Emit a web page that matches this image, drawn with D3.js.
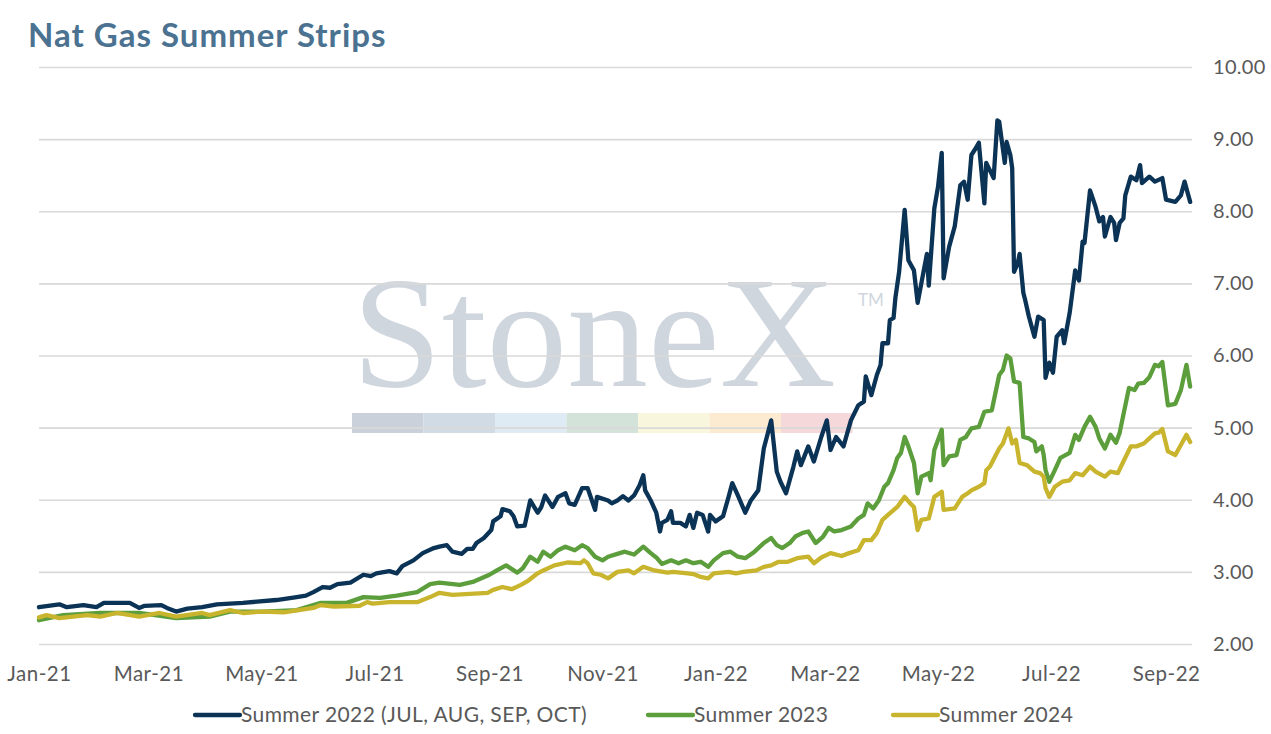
<!DOCTYPE html>
<html>
<head>
<meta charset="utf-8">
<script src="https://cdn.jsdelivr.net/npm/d3@7"></script>
<style>
  body { margin: 0; background: #fff; }
  svg { display: block; font-family: Lato, "Open Sans", sans-serif; }
</style>
</head>
<body>
<svg id="chart" width="1271" height="734"></svg>
<script>
// values, [date, price]
var summer2022 = [
  ["2021-01-01",2.51],["2021-01-12",2.55],["2021-01-16",2.51],["2021-01-25",2.54],["2021-02-01",2.51],
  ["2021-02-05",2.57],["2021-02-19",2.57],["2021-02-24",2.50],["2021-02-27",2.53],["2021-03-08",2.54],
  ["2021-03-11",2.50],["2021-03-16",2.45],["2021-03-22",2.49],["2021-03-30",2.51],["2021-04-07",2.55],
  ["2021-04-21",2.57],["2021-05-09",2.61],["2021-05-20",2.65],["2021-05-25",2.67],["2021-05-29",2.72],
  ["2021-06-03",2.79],["2021-06-07",2.78],["2021-06-11",2.83],["2021-06-18",2.85],["2021-06-25",2.96],
  ["2021-06-29",2.94],["2021-07-02",2.98],["2021-07-09",3.01],["2021-07-13",2.98],["2021-07-16",3.08],
  ["2021-07-22",3.16],["2021-07-27",3.26],["2021-08-02",3.33],["2021-08-05",3.35],["2021-08-09",3.37],
  ["2021-08-12",3.28],["2021-08-17",3.25],["2021-08-20",3.32],["2021-08-23",3.32],["2021-08-25",3.40],
  ["2021-08-29",3.47],["2021-09-02",3.58],["2021-09-03",3.70],["2021-09-07",3.77],["2021-09-08",3.87],
  ["2021-09-12",3.84],["2021-09-14",3.77],["2021-09-16",3.63],["2021-09-20",3.64],["2021-09-23",3.99],
  ["2021-09-27",3.82],["2021-09-29",3.90],["2021-10-01",4.06],["2021-10-05",3.90],["2021-10-08",4.04],
  ["2021-10-12",4.09],["2021-10-14",3.95],["2021-10-17",3.93],["2021-10-21",4.16],["2021-10-24",4.16],
  ["2021-10-28",3.86],["2021-10-29",4.04],["2021-11-04",3.99],["2021-11-06",3.95],["2021-11-09",3.99],
  ["2021-11-12",4.05],["2021-11-15",3.99],["2021-11-18",4.06],["2021-11-21",4.20],["2021-11-23",4.34],
  ["2021-11-24",4.13],["2021-11-27",3.99],["2021-11-30",3.82],["2021-12-02",3.56],["2021-12-03",3.68],
  ["2021-12-06",3.72],["2021-12-08",3.84],["2021-12-09",3.68],["2021-12-13",3.68],["2021-12-16",3.63],
  ["2021-12-18",3.79],["2021-12-20",3.61],["2021-12-22",3.82],["2021-12-25",3.79],["2021-12-28",3.56],
  ["2021-12-29",3.79],["2022-01-01",3.70],["2022-01-05",3.77],["2022-01-08",4.04],["2022-01-10",4.23],
  ["2022-01-13",4.06],["2022-01-17",3.82],["2022-01-20",3.99],["2022-01-24",4.13],["2022-01-27",4.71],
  ["2022-01-31",5.10],["2022-02-03",4.39],["2022-02-05",4.25],["2022-02-08",4.09],["2022-02-12",4.46],
  ["2022-02-14",4.67],["2022-02-16",4.48],["2022-02-20",4.74],["2022-02-23",4.53],["2022-02-27",4.87],
  ["2022-03-02",5.10],["2022-03-04",4.69],["2022-03-07",4.87],["2022-03-11",4.74],["2022-03-15",5.10],
  ["2022-03-19",5.31],["2022-03-22",5.36],["2022-03-23",5.71],["2022-03-26",5.45],["2022-03-29",5.73],
  ["2022-03-31",5.87],["2022-04-01",6.17],["2022-04-04",6.17],["2022-04-05",6.49],["2022-04-07",6.52],
  ["2022-04-08",6.80],["2022-04-10",7.16],["2022-04-13",8.02],["2022-04-15",7.32],["2022-04-18",7.18],
  ["2022-04-20",6.73],["2022-04-23",7.14],["2022-04-25",7.41],["2022-04-26",6.97],["2022-04-29",8.04],
  ["2022-05-01",8.34],["2022-05-03",8.81],["2022-05-04",7.07],["2022-05-07",7.51],["2022-05-10",7.79],
  ["2022-05-13",8.36],["2022-05-15",8.41],["2022-05-17",8.16],["2022-05-19",8.78],["2022-05-21",8.86],
  ["2022-05-23",8.95],["2022-05-26",8.11],["2022-05-27",8.67],["2022-05-31",8.46],["2022-06-02",9.26],
  ["2022-06-03",9.24],["2022-06-06",8.67],["2022-06-07",8.96],["2022-06-09",8.78],["2022-06-10",8.60],
  ["2022-06-11",7.16],["2022-06-13",7.28],["2022-06-14",7.41],["2022-06-16",6.87],["2022-06-17",6.77],
  ["2022-06-19",6.54],["2022-06-22",6.26],["2022-06-24",6.54],["2022-06-27",6.49],["2022-06-28",5.69],
  ["2022-06-30",5.90],["2022-07-02",5.76],["2022-07-04",6.26],["2022-07-07",6.35],["2022-07-08",6.17],
  ["2022-07-11",6.59],["2022-07-14",7.18],["2022-07-16",7.04],["2022-07-18",7.58],["2022-07-19",7.56],
  ["2022-07-22",8.29],["2022-07-25",8.06],["2022-07-27",7.86],["2022-07-29",7.92],["2022-07-30",7.65],
  ["2022-08-02",7.92],["2022-08-04",7.84],["2022-08-05",7.60],["2022-08-07",7.84],["2022-08-09",7.90],
  ["2022-08-10",8.22],["2022-08-13",8.48],["2022-08-16",8.43],["2022-08-18",8.64],["2022-08-19",8.39],
  ["2022-08-23",8.48],["2022-08-26",8.41],["2022-08-30",8.46],["2022-09-01",8.16],["2022-09-06",8.13],
  ["2022-09-09",8.22],["2022-09-11",8.41],["2022-09-14",8.13]
];

var summer2023 = [
  ["2021-01-01",2.33],["2021-01-14",2.40],["2021-02-03",2.43],["2021-02-24",2.43],["2021-03-16",2.36],
  ["2021-04-03",2.38],["2021-04-14",2.45],["2021-05-02",2.45],["2021-05-20",2.47],["2021-06-02",2.57],
  ["2021-06-16",2.57],["2021-06-25",2.65],["2021-07-04",2.64],["2021-07-13",2.67],["2021-07-24",2.72],
  ["2021-07-31",2.83],["2021-08-05",2.85],["2021-08-16",2.82],["2021-08-23",2.86],["2021-09-01",2.96],
  ["2021-09-05",3.02],["2021-09-10",3.09],["2021-09-16",2.99],["2021-09-19",3.05],["2021-09-23",3.21],
  ["2021-09-27",3.14],["2021-09-30",3.28],["2021-10-04",3.21],["2021-10-08",3.30],["2021-10-12",3.35],
  ["2021-10-17",3.30],["2021-10-21",3.37],["2021-10-24",3.33],["2021-10-28",3.21],["2021-11-01",3.16],
  ["2021-11-04",3.21],["2021-11-09",3.25],["2021-11-13",3.28],["2021-11-18",3.24],["2021-11-23",3.35],
  ["2021-11-27",3.26],["2021-11-30",3.20],["2021-12-03",3.11],["2021-12-08",3.16],["2021-12-12",3.12],
  ["2021-12-16",3.16],["2021-12-20",3.12],["2021-12-24",3.14],["2021-12-28",3.07],["2021-12-31",3.16],
  ["2022-01-05",3.26],["2022-01-09",3.28],["2022-01-13",3.21],["2022-01-17",3.19],["2022-01-22",3.28],
  ["2022-01-27",3.40],["2022-01-31",3.47],["2022-02-03",3.37],["2022-02-06",3.33],["2022-02-10",3.40],
  ["2022-02-13",3.49],["2022-02-17",3.54],["2022-02-20",3.56],["2022-02-24",3.40],["2022-02-28",3.49],
  ["2022-03-03",3.61],["2022-03-06",3.56],["2022-03-10",3.58],["2022-03-15",3.63],["2022-03-19",3.74],
  ["2022-03-22",3.79],["2022-03-24",3.95],["2022-03-27",3.88],["2022-03-30",3.99],["2022-04-02",4.18],
  ["2022-04-04",4.23],["2022-04-07",4.41],["2022-04-09",4.58],["2022-04-11",4.65],["2022-04-13",4.87],
  ["2022-04-15",4.74],["2022-04-18",4.51],["2022-04-20",4.09],["2022-04-22",4.32],["2022-04-26",4.37],
  ["2022-04-27",4.27],["2022-04-29",4.69],["2022-05-03",4.97],["2022-05-04",4.48],["2022-05-07",4.60],
  ["2022-05-11",4.62],["2022-05-13",4.83],["2022-05-16",4.87],["2022-05-19",4.99],["2022-05-23",5.01],
  ["2022-05-26",5.22],["2022-05-30",5.24],["2022-06-03",5.73],["2022-06-05",5.80],["2022-06-07",6.00],
  ["2022-06-09",5.96],["2022-06-11",5.64],["2022-06-14",5.62],["2022-06-16",4.87],["2022-06-19",4.85],
  ["2022-06-22",4.80],["2022-06-23",4.67],["2022-06-26",4.74],["2022-06-27",4.62],["2022-06-28",4.41],
  ["2022-06-30",4.25],["2022-07-03",4.41],["2022-07-06",4.58],["2022-07-11",4.65],["2022-07-14",4.90],
  ["2022-07-16",4.83],["2022-07-19",5.01],["2022-07-22",5.15],["2022-07-25",5.01],["2022-07-27",4.85],
  ["2022-07-30",4.71],["2022-08-02",4.90],["2022-08-05",4.79],["2022-08-07",4.93],["2022-08-09",5.18],
  ["2022-08-12",5.55],["2022-08-15",5.52],["2022-08-17",5.61],["2022-08-20",5.62],["2022-08-23",5.70],
  ["2022-08-26",5.87],["2022-08-28",5.85],["2022-08-30",5.91],["2022-09-02",5.31],["2022-09-06",5.33],
  ["2022-09-09",5.52],["2022-09-12",5.87],["2022-09-14",5.57]
];

var summer2024 = [
  ["2021-01-01",2.37],["2021-01-05",2.40],["2021-01-12",2.36],["2021-01-27",2.40],["2021-02-03",2.38],
  ["2021-02-12",2.43],["2021-02-24",2.38],["2021-03-07",2.43],["2021-03-16",2.38],["2021-03-30",2.43],
  ["2021-04-03",2.40],["2021-04-14",2.47],["2021-04-21",2.43],["2021-05-02",2.45],["2021-05-13",2.44],
  ["2021-05-29",2.50],["2021-06-02",2.54],["2021-06-09",2.52],["2021-06-23",2.53],["2021-06-27",2.58],
  ["2021-06-30",2.56],["2021-07-09",2.58],["2021-07-24",2.58],["2021-07-31",2.65],["2021-08-05",2.71],
  ["2021-08-12",2.68],["2021-08-31",2.71],["2021-09-03",2.75],["2021-09-08",2.79],["2021-09-13",2.76],
  ["2021-09-18",2.82],["2021-09-22",2.88],["2021-09-27",2.98],["2021-09-30",3.02],["2021-10-06",3.09],
  ["2021-10-13",3.13],["2021-10-20",3.12],["2021-10-22",3.16],["2021-10-24",3.12],["2021-10-27",2.98],
  ["2021-10-31",2.96],["2021-11-04",2.91],["2021-11-09",3.00],["2021-11-15",3.02],["2021-11-18",2.98],
  ["2021-11-23",3.07],["2021-11-29",3.02],["2021-12-06",2.99],["2021-12-09",3.00],["2021-12-17",2.98],
  ["2021-12-20",2.97],["2021-12-24",2.93],["2021-12-28",2.91],["2021-12-31",2.98],["2022-01-08",3.00],
  ["2022-01-12",2.98],["2022-01-16",3.00],["2022-01-23",3.02],["2022-01-27",3.07],["2022-01-31",3.09],
  ["2022-02-04",3.14],["2022-02-09",3.14],["2022-02-14",3.19],["2022-02-20",3.21],["2022-02-23",3.12],
  ["2022-02-27",3.20],["2022-03-04",3.26],["2022-03-10",3.22],["2022-03-14",3.26],["2022-03-19",3.30],
  ["2022-03-22",3.44],["2022-03-26",3.44],["2022-03-29",3.54],["2022-04-01",3.72],["2022-04-04",3.79],
  ["2022-04-09",3.90],["2022-04-13",4.04],["2022-04-16",3.95],["2022-04-18",3.90],["2022-04-20",3.58],
  ["2022-04-22",3.72],["2022-04-26",3.74],["2022-04-29",4.04],["2022-05-03",4.11],["2022-05-04",3.86],
  ["2022-05-10",3.88],["2022-05-14",4.04],["2022-05-17",4.09],["2022-05-19",4.13],["2022-05-23",4.18],
  ["2022-05-26",4.23],["2022-05-27",4.41],["2022-05-29",4.46],["2022-06-03",4.71],["2022-06-05",4.78],
  ["2022-06-08",4.99],["2022-06-10",4.78],["2022-06-12",4.83],["2022-06-14",4.51],["2022-06-18",4.48],
  ["2022-06-22",4.39],["2022-06-25",4.37],["2022-06-27",4.32],["2022-06-28",4.16],["2022-06-30",4.04],
  ["2022-07-03",4.18],["2022-07-07",4.25],["2022-07-11",4.27],["2022-07-14",4.37],["2022-07-18",4.34],
  ["2022-07-22",4.46],["2022-07-25",4.39],["2022-07-30",4.32],["2022-08-02",4.39],["2022-08-06",4.37],
  ["2022-08-09",4.53],["2022-08-13",4.74],["2022-08-16",4.74],["2022-08-20",4.78],["2022-08-23",4.85],
  ["2022-08-26",4.92],["2022-08-28",4.93],["2022-08-30",4.98],["2022-09-02",4.67],["2022-09-06",4.62],
  ["2022-09-09",4.76],["2022-09-12",4.90],["2022-09-14",4.80]
];

var seriesNames = ["Summer 2022 (JUL, AUG, SEP, OCT)", "Summer 2023", "Summer 2024"];
var seriesColors = ["#0b3356", "#5c9e3b", "#c9b42d"];
var yTicks = [2, 3, 4, 5, 6, 7, 8, 9, 10];
var xTicks = ["2021-01-01","2021-03-01","2021-05-01","2021-07-01","2021-09-01","2021-11-01",
              "2022-01-01","2022-03-01","2022-05-01","2022-07-01","2022-09-01"];
var xDomain = ["2021-01-01", "2022-09-15"];

var parse = d3.timeParse("%Y-%m-%d");
var svg = d3.select("#chart");

var x = d3.scaleTime()
    .domain(xDomain.map(parse))
    .range([39, 1192]);
var y = d3.scaleLinear()
    .domain([2, 10])
    .range([644, 67]);

// title
svg.append("text")
    .attr("x", 28)
    .attr("y", 47)
    .attr("fill", "#4b7290")
    .attr("font-size", 33)
    .attr("font-weight", 700)
    .attr("letter-spacing", 1)
    .text("Nat Gas Summer Strips");

// StoneX watermark, sits under the grid
var mark = svg.append("g");
mark.append("text")
    .attr("x", 352)
    .attr("y", 386)
    .attr("font-family", "'Liberation Serif', 'DejaVu Serif', serif")
    .attr("font-size", 158)
    .attr("fill", "#d0d6de")
    .attr("textLength", 484)
    .attr("lengthAdjust", "spacingAndGlyphs")
    .text("StoneX");
mark.append("text")
    .attr("x", 858)
    .attr("y", 306)
    .attr("font-size", 17)
    .attr("fill", "#d0d6de")
    .text("TM");
var bandColors = ["#cad1da", "#d1dbe6", "#deebf4", "#d4e3d9", "#f9f6de", "#fcebd1", "#f4d8da"];
mark.selectAll("rect")
    .data(bandColors)
    .enter()
    .append("rect")
    .attr("x", function (d, i) { return 352 + i * 71.5; })
    .attr("y", 413)
    .attr("width", 71.5)
    .attr("height", 20)
    .attr("fill", function (d) { return d; });

// grid + right axis labels
var yAxis = d3.axisRight(y)
    .tickValues(yTicks)
    .tickSize(1192 - 39)
    .tickPadding(21)
    .tickFormat(d3.format(".2f"));
var gy = svg.append("g")
    .attr("transform", "translate(39,0)")
    .call(yAxis);
gy.select(".domain").remove();
gy.selectAll("line").attr("stroke", "#d9d9d9").attr("stroke-width", 1.6);
gy.selectAll("text")
    .attr("fill", "#595959")
    .attr("font-size", 20)
    .attr("letter-spacing", 0.3)
    .attr("font-family", "Lato, sans-serif");

// bottom axis
var xAxis = d3.axisBottom(x)
    .tickValues(xTicks.map(parse))
    .tickSize(0)
    .tickPadding(22)
    .tickFormat(d3.timeFormat("%b-%y"));
var gx = svg.append("g")
    .attr("transform", "translate(0,644)")
    .call(xAxis);
gx.select(".domain").remove();
gx.selectAll("text")
    .attr("fill", "#595959")
    .attr("font-size", 20.5)
    .attr("letter-spacing", 0.5)
    .attr("font-family", "Lato, sans-serif");

// series lines
var line = d3.line()
    .x(function (d) { return x(parse(d[0])); })
    .y(function (d) { return y(d[1]); });

[summer2022, summer2023, summer2024].forEach(function (data, i) {
    svg.append("path")
        .datum(data)
        .attr("fill", "none")
        .attr("stroke", seriesColors[i])
        .attr("stroke-width", 4.3)
        .attr("stroke-linejoin", "round")
        .attr("stroke-linecap", "round")
        .attr("d", line);
});

// legend
var legendX = [195, 648, 893];
var legend = svg.append("g").attr("transform", "translate(0,715)");
seriesNames.forEach(function (name, i) {
    legend.append("line")
        .attr("x1", legendX[i])
        .attr("x2", legendX[i] + 45)
        .attr("stroke", seriesColors[i])
        .attr("stroke-width", 4.3)
        .attr("stroke-linecap", "round");
    legend.append("text")
        .attr("x", legendX[i] + 46)
        .attr("y", 7)
        .attr("fill", "#595959")
        .attr("font-size", 21)
        .attr("letter-spacing", 0.4)
        .text(name);
});
</script>
</body>
</html>
